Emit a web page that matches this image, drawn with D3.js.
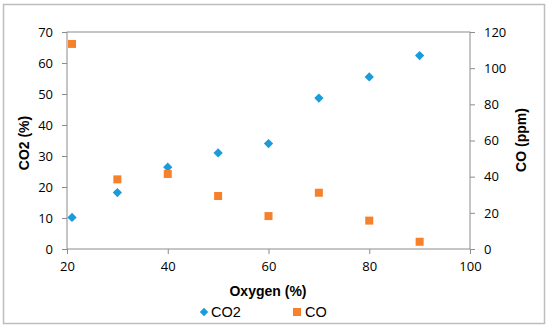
<!DOCTYPE html>
<html>
<head>
<meta charset="utf-8">
<script src="https://cdn.jsdelivr.net/npm/d3@7"></script>
<style>
  body { margin: 0; background: #fff; }
  .tick text { font-family: "Open Sans", sans-serif; font-size: 13px; fill: #000; }
  .axisTitle { font-family: "Liberation Sans", Arial, sans-serif; font-size: 14px; font-weight: bold; }
  .legendText { font-family: "Liberation Sans", Arial, sans-serif; font-size: 14.5px; }
</style>
</head>
<body>
<div id="chart"></div>
<script>
var svgWidth = 550;
var svgHeight = 329;
var margin = { top: 32, right: 80, bottom: 80, left: 67 };
var width = 470 - margin.left;
var height = 249 - margin.top;

// data
var oxygen = [21, 30, 40, 50, 60, 70, 80, 90];
var co2 = [10.2, 18.2, 26.4, 31.0, 34.0, 48.7, 55.5, 62.4];
var co = [113.4, 38.5, 41.5, 29.3, 18.2, 31.1, 15.7, 4.0];
var xTicks = [20, 40, 60, 80, 100];
var leftTicks = [0, 10, 20, 30, 40, 50, 60, 70];
var rightTicks = [0, 20, 40, 60, 80, 100, 120];

var blue = "#1a9bdb";
var orange = "#f7802a";
var axisColor = "#8c8c8c";

var svg = d3.select("#chart")
    .append("svg")
    .attr("width", svgWidth)
    .attr("height", svgHeight);

// outer border
svg.append("rect")
    .attr("x", 3.5)
    .attr("y", 4.5)
    .attr("width", 541)
    .attr("height", 319)
    .attr("fill", "none")
    .attr("stroke", "#bdbdbd")
    .attr("stroke-width", 1.5);

var chartGroup = svg.append("g")
    .attr("transform", `translate(${margin.left}, ${margin.top})`);

// scales
var xScale = d3.scaleLinear().domain([20, 100]).range([0, width]);
var yLeft = d3.scaleLinear().domain([0, 70]).range([height, 0]);
var yRight = d3.scaleLinear().domain([0, 120]).range([height, 0]);

// plot frame
chartGroup.append("rect")
    .attr("width", width)
    .attr("height", height)
    .attr("fill", "none")
    .attr("stroke", axisColor)
    .attr("stroke-width", 1);

function styleAxis(g) {
    g.selectAll("path, line").attr("stroke", axisColor);
}

chartGroup.append("g")
    .attr("transform", `translate(0, ${height})`)
    .call(d3.axisBottom(xScale).tickValues(xTicks).tickSize(5).tickPadding(8).tickSizeOuter(0))
    .call(styleAxis);

chartGroup.append("g")
    .call(d3.axisLeft(yLeft).tickValues(leftTicks).tickSize(5).tickPadding(9).tickSizeOuter(0))
    .call(styleAxis);

chartGroup.append("g")
    .attr("transform", `translate(${width}, 0)`)
    .call(d3.axisRight(yRight).tickValues(rightTicks).tickSize(5).tickPadding(9).tickSizeOuter(0))
    .call(styleAxis);

chartGroup.selectAll(".domain").remove();

// CO2 diamonds on left axis
chartGroup.selectAll(".co2")
    .data(oxygen)
    .enter()
    .append("path")
    .attr("class", "co2")
    .attr("d", d3.symbol().type(d3.symbolDiamond2).size(55))
    .attr("transform", (d, i) => `translate(${xScale(d)}, ${yLeft(co2[i])})`)
    .attr("fill", blue);

// CO squares on right axis
chartGroup.selectAll(".co")
    .data(oxygen)
    .enter()
    .append("rect")
    .attr("class", "co")
    .attr("x", d => xScale(d) - 4)
    .attr("y", (d, i) => yRight(co[i]) - 4)
    .attr("width", 8)
    .attr("height", 8)
    .attr("fill", orange);

// axis titles
svg.append("text")
    .attr("class", "axisTitle")
    .attr("transform", "translate(29, 143) rotate(-90)")
    .attr("text-anchor", "middle")
    .text("CO2 (%)");

svg.append("text")
    .attr("class", "axisTitle")
    .attr("transform", "translate(526, 140) rotate(-90)")
    .attr("text-anchor", "middle")
    .text("CO (ppm)");

svg.append("text")
    .attr("class", "axisTitle")
    .attr("x", 268)
    .attr("y", 296)
    .attr("text-anchor", "middle")
    .text("Oxygen (%)");

// legend
var legend = svg.append("g");
legend.append("path")
    .attr("d", d3.symbol().type(d3.symbolDiamond2).size(45))
    .attr("transform", "translate(204, 312)")
    .attr("fill", blue);
legend.append("text")
    .attr("class", "legendText")
    .attr("x", 211)
    .attr("y", 317)
    .text("CO2");
legend.append("rect")
    .attr("x", 293)
    .attr("y", 308)
    .attr("width", 8)
    .attr("height", 8)
    .attr("fill", orange);
legend.append("text")
    .attr("class", "legendText")
    .attr("x", 305)
    .attr("y", 317)
    .text("CO");
</script>
</body>
</html>
